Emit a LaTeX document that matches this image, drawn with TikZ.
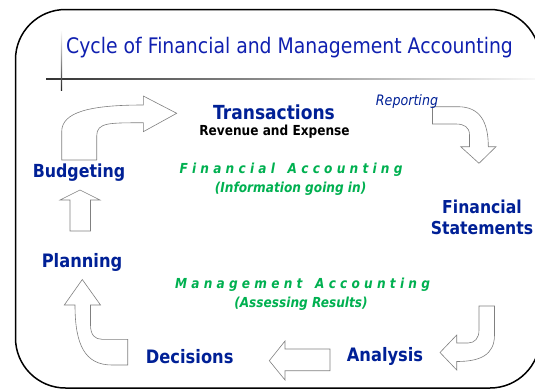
\documentclass[tikz,border=0pt]{standalone}
\usepackage{fontspec}
\setmainfont[FakeStretch=0.88]{DejaVu Sans}
\usetikzlibrary{positioning}

\definecolor{cyclenavy}{RGB}{0,32,150}
\definecolor{titleblue}{RGB}{16,32,176}
\definecolor{acctgreen}{RGB}{0,176,80}
\definecolor{arrowgray}{RGB}{128,128,128}

\tikzset{
    stage/.style={font=\bfseries\fontsize{18.5}{21.6}\selectfont, text=cyclenavy,
        inner sep=0pt, align=center},
    note/.style={font=\bfseries\itshape\fontsize{13.8}{16}\selectfont, text=acctgreen,
        inner sep=0pt},
    blockarrow/.style={draw=arrowgray, fill=white, line width=0.6pt},
}

\begin{document}
\begin{tikzpicture}[x=1pt, y=-1pt]
    \useasboundingbox (0,0) rectangle (535,389);
    \clip (0,0) rectangle (535,389);

    % frame and title rules
    \draw[line width=1.5pt, rounded corners=50pt] (15.5,9.5) rectangle (540,388);
    \shade[left color=black!80, right color=black!3] (46,78.8) rectangle (535,79.9);
    \shade[top color=white, bottom color=black!85] (60.9,30) rectangle (62.1,90);
    \node[font=\fontsize{21.4}{24}\selectfont, text=titleblue, anchor=west, inner sep=0pt]
        (title) at (66,48) {Cycle of Financial and Management Accounting};

    % block arrows, clockwise from Budgeting
    \draw[blockarrow] (61.7,160) -- (61.7,131.7)
        .. controls (61.7,112) and (90,105) .. (143.3,105) -- (143.3,96)
        -- (176.7,113.3) -- (143.3,131.7) -- (143.3,122.7)
        .. controls (110,123) and (96.7,122) .. (96.7,136) -- (96.7,160) -- cycle;
    \draw[blockarrow] (432.5,106.7) -- (458,106.7)
        .. controls (480,106.7) and (488.3,122) .. (488.3,146.7) -- (496,146.7)
        -- (479,163.3) -- (460.7,146.7) -- (469.5,146.7) -- (469.5,135)
        .. controls (469.5,127) and (464,124) .. (456,124) -- (432.5,124) -- cycle;
    \draw[blockarrow] (479,306) -- (494.5,306) -- (494.5,335)
        .. controls (494.5,355) and (480,361.5) .. (456.7,361.5) -- (456.7,370)
        -- (440,352.5) -- (456.7,335) -- (456.7,343) -- (468,343)
        .. controls (475,343) and (479,338) .. (479,330) -- cycle;
    \draw[blockarrow] (330,349) -- (285,349) -- (285,341) -- (269.3,360.7)
        -- (285,380) -- (285,370.7) -- (330,370.7) -- cycle;
    \draw[blockarrow] (127.7,339.3) -- (127.7,365) -- (112,365)
        .. controls (85,365) and (75,345) .. (75,305) -- (64.3,305)
        -- (82.3,279.5) -- (100.5,305) -- (90.5,305) -- (90.5,325)
        .. controls (90.5,335) and (95,339.3) .. (102,339.3) -- cycle;
    \draw[blockarrow] (70,231) -- (70,200) -- (60,200) -- (80,190) -- (100,200)
        -- (90.5,200) -- (90.5,231) -- cycle;

    % stages of the cycle
    \node[stage, font=\bfseries\fontsize{19.4}{21.6}\selectfont]
        (transactions) at (274,112) {Transactions};
    \node[font=\bfseries\fontsize{13.8}{16}\selectfont, inner sep=0pt]
        (revenue) at (274.5,131.5) {Revenue and Expense};
    \node[font=\itshape\fontsize{14.4}{18}\selectfont, text=cyclenavy, inner sep=0pt]
        (reporting) at (407,101.7) {Reporting};
    \node[stage, font=\bfseries\fontsize{17.8}{21.6}\selectfont]
        (statements) at (482,217.5) {Financial\\Statements};
    \node[stage] (analysis) at (385,356.7) {Analysis};
    \node[stage] (decisions) at (189.7,356.7) {Decisions};
    \node[stage] (planning) at (82,262.3) {Planning};
    \node[stage, font=\bfseries\fontsize{18}{21.6}\selectfont]
        (budgeting) at (79,173) {Budgeting};

    % the two kinds of accounting
    \node[note] (finacct) at (291,170) {F i n a n c i a l \ \ A c c o u n t i n g};
    \node[note] (infoin) at (290.6,189) {(Information going in)};
    \node[note] (mgmtacct) at (302.5,285) {M a n a g e m e n t \ \ A c c o u n t i n g};
    \node[note] (assessing) at (301,304) {(Assessing Results)};
\end{tikzpicture}
\end{document}
